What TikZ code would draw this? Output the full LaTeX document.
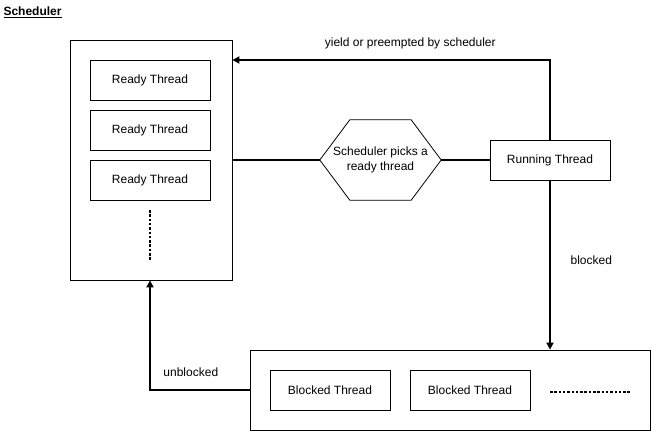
\documentclass[tikz,border=0pt]{standalone}
\usepackage{fontspec}
\setmainfont{Liberation Sans}
\usetikzlibrary{arrows.meta}

\tikzset{
  box/.style={draw, line width=0.8pt, minimum width=120pt, minimum height=40pt, inner sep=0pt},
  link/.style={line width=2.6pt},
  flow/.style={link, -{Triangle[length=7pt,width=7pt]}},
  dots/.style={line width=2.8pt, dash pattern=on 2.5pt off 1.8pt},
}

\begin{document}
\begin{tikzpicture}[x=1pt,y=-1pt,font=\fontsize{12}{14.5}\selectfont]
                \useasboundingbox (0,0) rectangle (651,432);

                \node[anchor=west] (title) at (0,12) {\underline{\textbf{Scheduler}}};

                % ready queue
                \node[draw, line width=0.8pt, minimum width=162pt, minimum height=240pt, inner sep=0pt] (ready) at (151,160) {};
                \node[box] (r1) at (150,80) {Ready Thread};
                \node[box] (r2) at (150,130) {Ready Thread};
                \node[box] (r3) at (150,180) {Ready Thread};
                \coordinate (d1) at (150,210);
                \coordinate (d2) at (150,260);
                \draw[dots] (d1) -- (d2);

                % scheduler and running thread
                \node[minimum width=121pt, minimum height=80pt, inner sep=0pt, align=center] (pick) at (380.5,160)
                      {Scheduler picks a\\ready thread};
                \draw[line width=0.8pt] (pick.west) -- ([xshift=30pt]pick.north west) -- ([xshift=-30pt]pick.north east)
                      -- (pick.east) -- ([xshift=-30pt]pick.south east) -- ([xshift=30pt]pick.south west) -- cycle;
                \node[box] (run) at (550,160) {Running Thread};

                % blocked queue
                \node[draw, line width=0.8pt, minimum width=400pt, minimum height=80pt, inner sep=0pt] (blocked) at (450,390) {};
                \node[box] (b1) at (330,390) {Blocked Thread};
                \node[box] (b2) at (470,390) {Blocked Thread};
                \coordinate (e1) at (550,392);
                \coordinate (e2) at (631,392);
                \draw[dots] (e1) -- (e2);

                \draw[link] (ready.east) -- (pick.west);
                \draw[link] (pick.east) -- (run.west);
                \draw[flow] (run.north) |- (ready.east |- 0,60)
                      node[pos=0.72, above=6pt] (yl) {yield or preempted by scheduler};
                \draw[flow] (run.south) -- (run.south |- blocked.north)
                      node[pos=0.47, right=16pt] (bl) {blocked};
                \draw[flow] (blocked.west) -| (ready.south -| d1)
                      node[pos=0.295, above=9pt] (ul) {unblocked};
            \end{tikzpicture}
\end{document}
